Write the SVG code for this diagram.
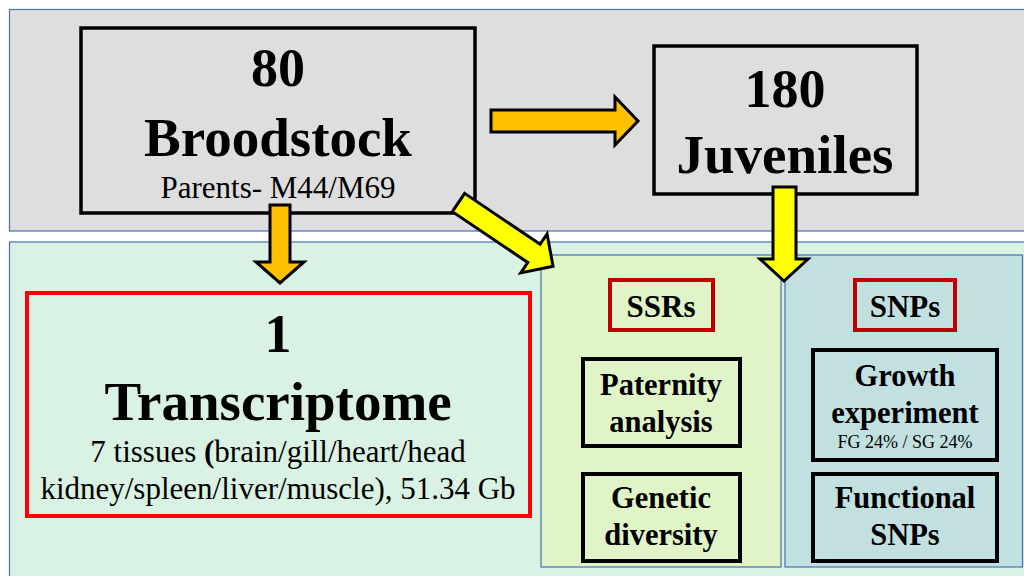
<svg xmlns="http://www.w3.org/2000/svg" width="1024" height="576" viewBox="0 0 1024 576">
<style>
text{font-family:"Liberation Serif","Times New Roman",serif;text-anchor:middle;fill:#000}
.b{font-weight:bold}
.panel{stroke:#4a6fb5;stroke-width:1.2}
.blk{fill:none;stroke:#000;stroke-width:4}
.red{fill:none;stroke:#ff0000;stroke-width:4}
.dred{fill:none;stroke:#c00000;stroke-width:4}
.ora{fill:#ffc000;stroke:#000;stroke-width:3;stroke-linejoin:miter}
.yel{fill:#ffff00;stroke:#000;stroke-width:3;stroke-linejoin:miter}
</style>
<rect width="1024" height="576" fill="#ffffff"/>
<g id="panels">
<rect class="panel" x="9.5" y="9.5" width="1020" height="221.5" fill="#dedede"/>
<rect class="panel" x="9.5" y="242" width="1020" height="340" fill="#d9f2e4"/>
<rect class="panel" x="541" y="255" width="240" height="312" fill="#e0f4c8"/>
<rect class="panel" x="785" y="255" width="237.5" height="312" fill="#c3e0e0"/>
</g>
<g id="broodstock">
<rect class="blk" x="81" y="28" width="394" height="185" style="stroke-width:3.5"/>
<text class="b" x="278" y="86" font-size="54">80</text>
<text class="b" x="278" y="156" font-size="55">Broodstock</text>
<text x="278" y="198" font-size="31">Parents- M44/M69</text>
</g>
<g id="juveniles">
<rect class="blk" x="654" y="46" width="263" height="148" style="stroke-width:3.5"/>
<text class="b" x="785" y="107" font-size="54">180</text>
<text class="b" x="785" y="173" font-size="55">Juveniles</text>
</g>
<g id="transcriptome">
<rect class="red" x="27" y="293" width="503" height="223"/>
<text class="b" x="278" y="352" font-size="54">1</text>
<text class="b" x="278" y="420" font-size="55">Transcriptome</text>
<text x="278" y="462" font-size="31">7 tissues <tspan class="b">(</tspan>brain/gill/heart/head</text>
<text x="278" y="499" font-size="31">kidney/spleen/liver/muscle), 51.34 Gb</text>
</g>
<g id="ssrs">
<rect class="dred" x="610" y="280" width="103" height="50"/>
<text class="b" x="661" y="317" font-size="31">SSRs</text>
</g>
<g id="paternity">
<rect class="blk" x="583" y="359" width="157" height="87"/>
<text class="b" x="661" y="395" font-size="30.5">Paternity</text>
<text class="b" x="661" y="432" font-size="30.5">analysis</text>
</g>
<g id="genetic">
<rect class="blk" x="583" y="474" width="157" height="87"/>
<text class="b" x="661" y="508" font-size="30.5">Genetic</text>
<text class="b" x="661" y="545" font-size="30.5">diversity</text>
</g>
<g id="snps">
<rect class="dred" x="855" y="280" width="100" height="50"/>
<text class="b" x="905" y="317" font-size="31">SNPs</text>
</g>
<g id="growth">
<rect class="blk" x="813" y="350" width="184" height="110"/>
<text class="b" x="905" y="386" font-size="30.5">Growth</text>
<text class="b" x="905" y="423" font-size="30.5">experiment</text>
<text x="905" y="448" font-size="18">FG 24% / SG 24%</text>
</g>
<g id="functional">
<rect class="blk" x="813" y="474" width="184" height="87"/>
<text class="b" x="905" y="508" font-size="30.5">Functional</text>
<text class="b" x="905" y="545" font-size="30.5">SNPs</text>
</g>
<g id="connectors">
<polygon class="ora" points="491,110 615,110 615,97 638,121 615,145 615,132 491,132"/>
<polygon class="ora" points="270,205 290,205 290,262 304,262 280,283 256,262 270,262"/>
<polygon class="yel" points="773,187 796,187 796,259 808,259 784,281 760,259 773,259"/>
<polygon class="yel" transform="translate(458.5,202.5) rotate(34)" points="0,-11 91,-11 91,-23.5 114,0 91,23.5 91,11 0,11"/>
</g>
</svg>
